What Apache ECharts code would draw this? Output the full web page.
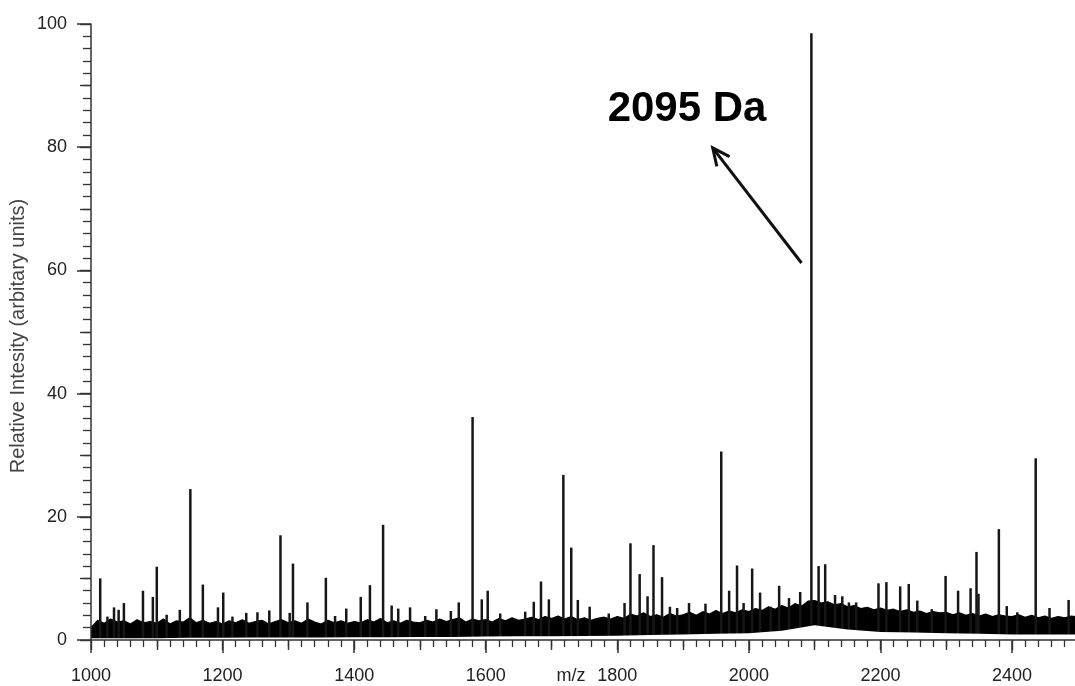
<!DOCTYPE html>
<html>
<head>
<meta charset="utf-8">
<script src="https://cdn.jsdelivr.net/npm/echarts@6/dist/echarts.min.js"></script>
<style>
html,body{margin:0;padding:0;background:#fff;}
#chart{width:1075px;height:686px;}
</style>
</head>
<body>
<div id="chart"></div>
<script>
// ---- data ----
const xTickLabels = [1000, 1200, 1400, 1600, 1800, 2000, 2200, 2400];
const yTickLabels = [0, 20, 40, 60, 80, 100];

// visible peaks: m/z and relative intensity
const peakMz = [1014,1025,1035,1042,1050,1079,1094,1100,1115,1135,1151,1170,1193,1201,1215,1236,1253,1271,1288,1302,1307,1329,1357,1371,1388,1410,1424,1444,1457,1467,1485,1508,1525,1547,1559,1580,1594,1603,1622,1660,1673,1684,1696,1718,1730,1740,1758,1787,1811,1820,1834,1846,1855,1868,1880,1891,1909,1934,1958,1970,1982,1992,2005,2017,2033,2046,2061,2078,2095,2106,2116,2131,2142,2152,2163,2197,2209,2230,2243,2256,2278,2299,2318,2337,2346,2349,2380,2392,2408,2436,2457,2486];
const peakIntensity = [10.0,3.8,5.3,4.9,6.0,8.0,7.0,11.9,4.1,4.9,24.5,9.0,5.3,7.7,3.8,4.4,4.5,4.8,17.0,4.4,12.4,6.1,10.1,3.9,5.1,7.0,8.9,18.7,5.6,5.1,5.3,3.9,5.0,4.7,6.1,36.2,6.6,8.0,4.3,4.6,6.2,9.5,6.6,26.8,15.0,6.5,5.4,4.3,6.0,15.7,10.7,7.1,15.4,10.2,5.4,5.2,6.0,5.9,30.6,8.0,12.1,6.0,11.6,7.7,5.4,8.8,6.8,7.8,98.5,12.0,12.3,7.3,7.1,6.1,6.1,9.2,9.4,8.7,9.1,6.4,5.0,10.4,8.0,8.4,14.3,7.5,18.0,5.5,4.5,29.5,5.2,6.5];

// noise band upper edge, sampled every 10 m/z from 1000 to 2500
const noiseTopStart = 1000, noiseTopStep = 10;
const noiseTop = [
  2.0,3.2,2.7,3.4,2.9,3.1,2.6,3.3,2.8,3.0,
  2.7,3.4,2.6,3.1,2.9,3.6,2.8,3.2,2.7,3.0,
  2.6,3.1,2.8,3.3,2.7,3.0,3.2,2.6,3.0,3.3,
  2.8,3.1,2.7,3.4,2.9,2.6,3.2,2.8,3.1,2.7,
  3.0,2.8,3.3,2.9,3.5,2.8,3.1,2.7,3.2,2.9,
  2.8,3.2,2.9,3.4,3.0,3.3,3.6,2.9,3.4,3.1,
  3.3,2.9,3.5,3.1,3.6,3.2,3.4,3.7,3.3,3.8,
  3.5,3.9,3.4,3.8,3.3,3.6,3.2,3.5,3.7,3.4,
  3.8,3.5,4.2,3.9,4.4,3.8,4.1,3.7,4.3,3.9,
  4.1,4.5,4.0,4.6,4.2,4.8,4.3,4.7,4.4,4.9,
  4.6,5.1,4.8,5.4,5.0,5.6,5.2,5.9,5.5,6.3,
  6.4,6.0,6.2,5.7,5.9,5.4,5.6,5.1,5.3,4.9,
  5.2,4.8,5.0,4.6,4.9,4.5,4.7,4.3,4.6,4.4,
  4.5,4.1,4.4,4.0,4.3,3.9,4.2,3.8,4.1,3.9,
  3.8,4.1,3.7,4.0,3.6,3.9,3.5,3.8,3.6,3.9,
  3.7
];
// noise band lower edge, sampled every 50 m/z from 1000 to 2500
const noiseBottomStart = 1000, noiseBottomStep = 50;
const noiseBottom = [0.3,0.3,0.3,0.35,0.35,0.4,0.4,0.4,0.45,0.45,0.5,0.5,0.55,0.6,0.6,0.65,0.7,0.8,0.9,1.0,1.1,1.5,2.4,1.7,1.3,1.2,1.1,1.0,0.9,0.9,0.9];

const annotationText = '2095 Da';
const annotationTextAt = [1906, 86.2];
const arrowFrom = [2080, 61.2];
const arrowTo = [1945, 79.9];

// ---- build chart ----
const peakData = peakMz.map((m, i) => [m, peakIntensity[i]]);
const topData = noiseTop.map((v, i) => [noiseTopStart + i * noiseTopStep, v]);
const bottomData = noiseBottom.map((v, i) => [noiseBottomStart + i * noiseBottomStep, v]);

const axisColor = '#333';
const font = "'Liberation Sans', Arial, sans-serif";

const chart = echarts.init(document.getElementById('chart'), null, {renderer: 'canvas'});
chart.setOption({
  animation: false,
  backgroundColor: '#fff',
  grid: {left: 91, top: 24, width: 1052.6, height: 616, containLabel: false, outerBoundsMode: 'none'},
  xAxis: [{
    type: 'value', min: 1000, max: 2600, interval: 200, position: 'bottom', z: 10,
    axisLine: {show: true, onZero: false, lineStyle: {color: axisColor, width: 1.5}},
    axisTick: {show: true, length: 13, lineStyle: {color: axisColor, width: 1.5}},
    minorTick: {show: true, splitNumber: 10, length: 7, lineStyle: {color: axisColor, width: 1.3}},
    axisLabel: {margin: 27, fontSize: 18, color: '#222', fontFamily: font,
      formatter: v => xTickLabels.indexOf(v) >= 0 ? String(v) : ''},
    splitLine: {show: false}, minorSplitLine: {show: false}
  }, {
    type: 'value', min: 1000, max: 2600, interval: 100, position: 'bottom', z: 9,
    axisLine: {show: false},
    axisTick: {show: true, length: 10, lineStyle: {color: axisColor, width: 1.4}},
    axisLabel: {show: false},
    splitLine: {show: false}
  }],
  yAxis: [{
    type: 'value', min: 0, max: 100, interval: 20, position: 'left', z: 10,
    axisLine: {show: true, onZero: false, lineStyle: {color: axisColor, width: 1.5}},
    axisTick: {show: true, length: 14, lineStyle: {color: axisColor, width: 1.5}},
    minorTick: {show: true, splitNumber: 10, length: 8, lineStyle: {color: axisColor, width: 1.3}},
    axisLabel: {margin: 24, fontSize: 18, color: '#222', fontFamily: font,
      formatter: v => yTickLabels.indexOf(v) >= 0 ? String(v) : ''},
    splitLine: {show: false}
  }, {
    type: 'value', min: 0, max: 100, interval: 10, position: 'left', z: 9,
    axisLine: {show: false},
    axisTick: {show: true, length: 11, lineStyle: {color: axisColor, width: 1.4}},
    axisLabel: {show: false},
    splitLine: {show: false}
  }],
  series: [{
    name: 'noise', type: 'line', data: topData, z: 2,
    showSymbol: false, symbol: 'none', sampling: 'none',
    lineStyle: {color: '#000', width: 1.2},
    areaStyle: {color: '#000', opacity: 1}
  }, {
    name: 'peaks', type: 'bar', data: peakData, z: 3,
    barWidth: 2.5, itemStyle: {color: '#161616'}
  }, {
    name: 'floor', type: 'line', data: bottomData, z: 4,
    showSymbol: false, symbol: 'none',
    lineStyle: {width: 0, color: '#fff'},
    areaStyle: {color: '#fff', opacity: 1}
  }]
});

// annotation anchored in data coordinates
const p0 = chart.convertToPixel({xAxisIndex: 0, yAxisIndex: 0}, arrowFrom);
const p1 = chart.convertToPixel({xAxisIndex: 0, yAxisIndex: 0}, arrowTo);
const pt = chart.convertToPixel({xAxisIndex: 0, yAxisIndex: 0}, annotationTextAt);
const dx = p0[0] - p1[0], dy = p0[1] - p1[1];
const len = Math.sqrt(dx * dx + dy * dy);
const ux = dx / len, uy = dy / len;
const headLen = 19, ang = 25 * Math.PI / 180;
const rot = (a) => [p1[0] + headLen * (ux * Math.cos(a) - uy * Math.sin(a)), p1[1] + headLen * (ux * Math.sin(a) + uy * Math.cos(a))];
const h1 = rot(ang), h2 = rot(-ang);

chart.setOption({
  graphic: [
    {type: 'line', shape: {x1: p0[0], y1: p0[1], x2: p1[0], y2: p1[1]}, style: {stroke: '#111', lineWidth: 3}, z: 20},
    {type: 'polyline', shape: {points: [h1, p1, h2]}, style: {stroke: '#111', lineWidth: 3, fill: null, lineJoin: 'miter'}, z: 20},
    {type: 'text', x: pt[0], y: pt[1], z: 20,
      style: {text: annotationText, fill: '#000', font: "bold 42px 'Liberation Sans', Arial, sans-serif", align: 'center', verticalAlign: 'middle'}},
    {type: 'text', x: 18, y: 336, rotation: Math.PI / 2, z: 20,
      style: {text: 'Relative Intesity (arbitary units)', fill: '#444', font: "20px 'Liberation Sans', Arial, sans-serif", align: 'center', verticalAlign: 'middle'}},
    {type: 'text', x: 571, y: 676, z: 20,
      style: {text: 'm/z', fill: '#222', font: "18px 'Liberation Sans', Arial, sans-serif", align: 'center', verticalAlign: 'middle'}}
  ]
});
</script>
</body>
</html>
